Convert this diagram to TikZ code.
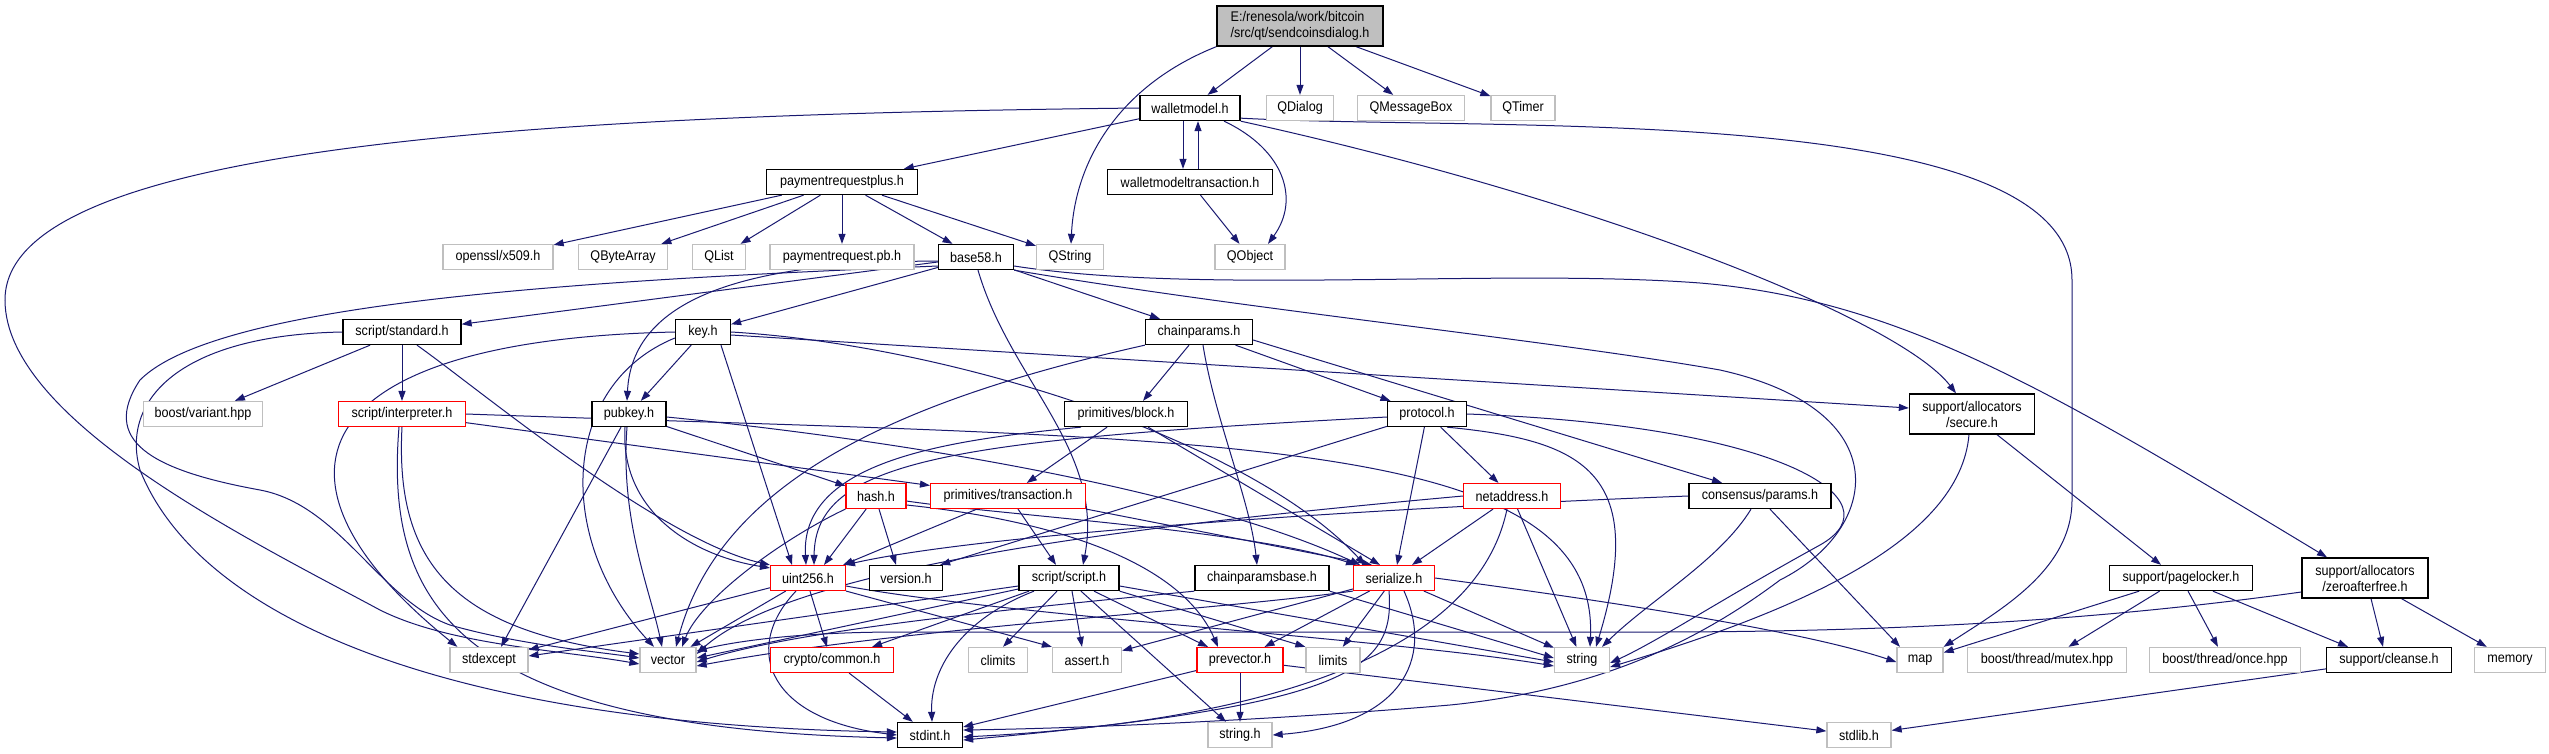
\documentclass[tikz,border=0pt]{standalone}
\usepackage{fontspec}
\setmainfont{Liberation Sans}
\newfontfamily\dox[FakeStretch=0.9]{Liberation Sans}
\usetikzlibrary{arrows.meta}
\definecolor{edgecol}{HTML}{191970}
\definecolor{extgray}{HTML}{BFBFBF}
\definecolor{rootfill}{HTML}{BFBFBF}
\pgfdeclarelayer{bgl}
\pgfdeclarelayer{edgel}
\pgfsetlayers{bgl,edgel,main}
\tikzset{
  box/.style={rectangle, minimum height=25pt, inner xsep=2pt, inner ysep=1pt,
              font=\dox\fontsize{14}{16}\selectfont, fill=white},
  doc/.style={box, draw=black, line width=1.3pt},
  ext/.style={box, draw=extgray, line width=1.3pt},
  trunc/.style={box, draw=red, line width=1.1pt},
  rootbox/.style={box, draw=black, line width=1.3pt, fill=rootfill, minimum height=40pt},
  e/.style={draw=edgecol, line width=1pt, -{Triangle[length=10pt,width=7pt]}},
}
\begin{document}
\begin{tikzpicture}[x=1pt,y=-1pt]
\begin{pgfonlayer}{bgl}
\fill[white] (0,0) rectangle (2549,753);
\end{pgfonlayer}
\useasboundingbox (0,0) rectangle (2549,753);

% ---------- nodes ----------
\node[rootbox, minimum width=166pt, align=left] (root) at (1300,26) {E:/renesola/work/bitcoin\\/src/qt/sendcoinsdialog.h};
\node[doc, minimum width=100pt] (wm) at (1190,108) {walletmodel.h};
\node[ext, minimum width=67pt] (qdialog) at (1300,108) {QDialog};
\node[ext, minimum width=107pt] (qmsg) at (1411,108) {QMessageBox};
\node[ext, minimum width=64pt] (qtimer) at (1523,108) {QTimer};
\node[doc, minimum width=165pt] (wmt) at (1190,182) {walletmodeltransaction.h};
\node[doc, minimum width=151pt] (prp) at (842,182) {paymentrequestplus.h};
\node[ext, minimum width=110pt] (x509) at (498,257) {openssl/x509.h};
\node[ext, minimum width=89pt] (qba) at (623,257) {QByteArray};
\node[ext, minimum width=53pt] (qlist) at (719,257) {QList};
\node[ext, minimum width=144pt] (pb) at (842,257) {paymentrequest.pb.h};
\node[doc, minimum width=75pt] (b58) at (976,257) {base58.h};
\node[ext, minimum width=67pt] (qstring) at (1070,257) {QString};
\node[ext, minimum width=70pt] (qobject) at (1250,257) {QObject};
\node[doc, minimum width=118pt] (std) at (402,332) {script/standard.h};
\node[doc, minimum width=55pt] (key) at (703,332) {key.h};
\node[doc, minimum width=107pt] (cp) at (1199,332) {chainparams.h};
\node[ext, minimum width=119pt] (bv) at (203,414) {boost/variant.hpp};
\node[trunc, minimum width=127pt] (interp) at (402,414) {script/interpreter.h};
\node[doc, minimum width=74pt] (pubkey) at (629,414) {pubkey.h};
\node[doc, minimum width=123pt] (block) at (1126,414) {primitives/block.h};
\node[doc, minimum width=79pt] (proto) at (1427,414) {protocol.h};
\node[doc, minimum width=125pt, minimum height=40pt, align=center] (secure) at (1972,414) {support/allocators\\/secure.h};
\node[trunc, minimum width=60pt] (hash) at (876,496) {hash.h};
\node[trunc, minimum width=155pt] (tx) at (1008,496) {primitives/transaction.h};
\node[trunc, minimum width=97pt] (net) at (1512,496) {netaddress.h};
\node[doc, minimum width=142pt] (params) at (1760,496) {consensus/params.h};
\node[trunc, minimum width=75pt] (uint) at (808,578) {uint256.h};
\node[doc, minimum width=73pt] (version) at (906,578) {version.h};
\node[doc, minimum width=100pt] (script) at (1069,578) {script/script.h};
\node[doc, minimum width=134pt] (cpb) at (1262,578) {chainparamsbase.h};
\node[trunc, minimum width=81pt] (ser) at (1394,578) {serialize.h};
\node[doc, minimum width=143pt] (pagelocker) at (2181,578) {support/pagelocker.h};
\node[doc, minimum width=126pt, minimum height=40pt, align=center] (zaf) at (2365,578) {support/allocators\\/zeroafterfree.h};
\node[ext, minimum width=78pt] (stdexcept) at (489,660) {stdexcept};
\node[ext, minimum width=56pt] (vector) at (668,660) {vector};
\node[trunc, minimum width=123pt] (crypto) at (832,660) {crypto/common.h};
\node[ext, minimum width=59pt] (climits) at (998,660) {climits};
\node[ext, minimum width=69pt] (assert) at (1087,660) {assert.h};
\node[trunc, minimum width=86pt] (prevector) at (1240,660) {prevector.h};
\node[ext, minimum width=54pt] (limits) at (1333,660) {limits};
\node[ext, minimum width=55pt] (string) at (1582,660) {string};
\node[ext, minimum width=46pt] (map) at (1920,660) {map};
\node[ext, minimum width=159pt] (mutex) at (2047,660) {boost/thread/mutex.hpp};
\node[ext, minimum width=151pt] (once) at (2225,660) {boost/thread/once.hpp};
\node[doc, minimum width=125pt] (cleanse) at (2389,660) {support/cleanse.h};
\node[ext, minimum width=71pt] (memory) at (2510,660) {memory};
\node[doc, minimum width=65pt] (stdint) at (930,735) {stdint.h};
\node[ext, minimum width=64pt] (stringh) at (1240,735) {string.h};
\node[ext, minimum width=64pt] (stdlib) at (1859,735) {stdlib.h};

% ---------- edges ----------
\begin{pgfonlayer}{edgel}
% root
\draw[e] (root) -- (wm);
\draw[e] (root) -- (qdialog);
\draw[e] (root) -- (qmsg);
\draw[e] (root) -- (qtimer);
\draw[e] (root.south west) .. controls (1120,85) and (1075,160) .. ([xshift=1pt]qstring.north);
% walletmodel
\draw[e] (wm) -- (prp);
\draw[e] ([xshift=-7pt]wm.south) -- ([xshift=-7pt]wmt.north);
\draw[e] ([xshift=8pt]wmt.north) -- ([xshift=8pt]wm.south);
\draw[e] ([xshift=34pt]wm.south) .. controls (1285,150) and (1300,200) .. ([xshift=18pt]qobject.north);
\draw[e] (wm.south east) .. controls (1600,200) and (1900,320) .. ([xshift=-16pt]secure.north);
\draw[e] ([yshift=3pt]wm.south east) .. controls (1500,132) and (2072,100) .. (2072,280) -- (2072,500) .. controls (2072,570) and (2000,610) .. (map.north east);
\draw[e] (wm.west) .. controls (500,115) and (5,150) .. (5,300) .. controls (5,420) and (250,540) .. (380,610) .. controls (450,645) and (560,650) .. ([yshift=-4pt]vector.west);
% paymentrequestplus
\draw[e] (prp) -- (x509);
\draw[e] (prp) -- (qba);
\draw[e] (prp) -- (qlist);
\draw[e] (prp) -- (pb);
\draw[e] (prp) -- (b58);
\draw[e] (prp) -- (qstring);
% walletmodeltransaction
\draw[e] (wmt) -- (qobject);
% base58
\draw[e] (b58) -- (cp);
\draw[e] (b58) -- (key);
\draw[e] (b58) -- (std);
\draw[e] ([yshift=-4pt]b58.west) .. controls (740,262) and (632,300) .. ([xshift=-2pt]pubkey.north);
\draw[e] ([xshift=2pt]b58.south) .. controls (1010,380) and (1105,450) .. ([xshift=14pt]script.north);
\draw[e] ([yshift=-9pt]b58.east) .. controls (1200,295) and (1500,268) .. (1700,283) .. controls (1900,300) and (2050,390) .. ([xshift=-38pt]zaf.north);
\draw[e] (b58.south east) .. controls (1250,310) and (1550,340) .. (1720,370) .. controls (1900,410) and (1880,530) .. (1780,580) .. controls (1700,640) and (1600,690) .. (1450,705) .. controls (1300,718) and (1100,728) .. ([yshift=5pt]stdint.east);
\draw[e] ([yshift=-9pt]b58.west) .. controls (600,280) and (220,300) .. (140,380) .. controls (100,440) and (150,470) .. (260,490) .. controls (340,505) and (380,600) .. (450,625) .. controls (520,645) and (600,652) .. ([yshift=2pt]vector.west);
% script/standard
\draw[e] (std) -- (interp);
\draw[e] (std) -- (bv);
\draw[e] ([xshift=15pt]std.south) .. controls (480,390) and (660,540) .. (uint.north west);
\draw[e] (std.west) .. controls (180,335) and (120,400) .. (140,470) .. controls (200,620) and (450,725) .. ([yshift=3pt]stdint.west);
% script/interpreter
\draw[e] (interp) -- (tx);
\draw[e] (interp.east) .. controls (1200,440) and (1600,430) .. ([xshift=8pt]string.north);
\draw[e] ([xshift=-3pt]interp.south) .. controls (385,600) and (450,728) .. ([yshift=-3pt]stdint.west);
\draw[e] (interp.south) .. controls (395,560) and (450,630) .. ([yshift=6pt]vector.west);
% key
\draw[e] (key) -- (pubkey);
\draw[e] ([xshift=18pt]key.south) -- ([xshift=-16pt]uint.north);
\draw[e] (key.east) .. controls (950,345) and (1250,440) .. ([xshift=-29pt]ser.north);
\draw[e] ([yshift=-3pt]key.east) -- ([yshift=6pt]secure.west);
\draw[e] (key.west) .. controls (300,340) and (250,480) .. ([xshift=8pt]stdexcept.north west);
\draw[e] ([yshift=-6pt]key.west) .. controls (560,385) and (555,540) .. ([xshift=-14pt]vector.north);
% pubkey
\draw[e] (pubkey) -- (hash);
\draw[e] ([yshift=-3pt]pubkey.east) .. controls (900,440) and (1200,490) .. ([xshift=-34pt]ser.north);
\draw[e] ([xshift=-4pt]pubkey.south) .. controls (620,510) and (690,555) .. ([yshift=-3pt]uint.north west);
\draw[e] ([xshift=-8pt]pubkey.south) -- ([xshift=12pt]stdexcept.north);
\draw[e] ([xshift=-2pt]pubkey.south) .. controls (620,520) and (650,590) .. ([xshift=-6pt]vector.north);
% chainparams
\draw[e] ([xshift=-10pt]cp.south) -- ([xshift=17pt]block.north);
\draw[e] (cp) -- (proto);
\draw[e] ([xshift=4pt]cp.south) .. controls (1215,420) and (1250,500) .. ([xshift=-5pt]cpb.north);
\draw[e] ([yshift=-8pt]cp.east) -- ([xshift=-38pt]params.north);
\draw[e] (cp.south west) .. controls (900,400) and (720,480) .. ([xshift=8pt]vector.north);
% primitives/block
\draw[e] (block) -- (tx);
\draw[e] (block) -- ([xshift=-14pt]ser.north);
\draw[e] ([xshift=-45pt]block.south) .. controls (950,440) and (800,460) .. ([xshift=-2pt]uint.north);
% protocol
\draw[e] (proto) -- (net);
\draw[e] (proto) -- ([xshift=3pt]ser.north);
\draw[e] (proto) -- ([xshift=-3pt]version.north east);
\draw[e] ([yshift=-3pt]proto.west) .. controls (950,440) and (815,460) .. ([xshift=6pt]uint.north);
\draw[e] ([xshift=20pt]proto.south) .. controls (1580,440) and (1650,470) .. ([xshift=14pt]string.north);
\draw[e] (proto.east) .. controls (1780,425) and (1900,500) .. (1820,545) .. controls (1720,600) and (1660,640) .. ([yshift=-3pt]string.east);
% netaddress
\draw[e] (net) -- ([xshift=18pt]ser.north);
\draw[e] (net) -- (string);
\draw[e] ([xshift=-5pt]net.south) .. controls (1480,640) and (1300,720) .. ([yshift=-2pt]stdint.east);
\draw[e] (net.west) .. controls (1200,520) and (800,560) .. ([yshift=6pt]vector.east);
% hash
\draw[e] (hash) -- ([xshift=16pt]uint.north);
\draw[e] ([xshift=3pt]hash.south) -- ([xshift=-10pt]version.north);
\draw[e] ([yshift=-5pt]hash.east) .. controls (1000,515) and (1250,530) .. ([xshift=-38pt]ser.north);
\draw[e] ([yshift=-9pt]hash.east) .. controls (1050,520) and (1180,560) .. ([xshift=-22pt]prevector.north);
\draw[e] (hash.south west) .. controls (780,540) and (700,600) .. ([xshift=14pt]vector.north);
% primitives/transaction
\draw[e] ([xshift=10pt]tx.south) -- ([xshift=-13pt]script.north);
\draw[e] (tx.south east) -- ([xshift=-22pt]ser.north);
\draw[e] ([xshift=-31pt]tx.south) -- ([xshift=-3pt]uint.north east);
% consensus/params
\draw[e] (params.west) .. controls (1450,505) and (1000,530) .. ([xshift=-1pt]uint.north east);
\draw[e] ([xshift=10pt]params.south) -- ([xshift=-20pt]map.north);
\draw[e] ([xshift=-9pt]params.south) .. controls (1720,560) and (1650,600) .. ([xshift=20pt]string.north);
% secure
\draw[e] ([xshift=25pt]secure.south) -- ([xshift=-20pt]pagelocker.north);
\draw[e] ([xshift=-3pt]secure.south) .. controls (1960,540) and (1800,610) .. ([yshift=-7pt]string.east);
% uint256
\draw[e] (uint) -- (stdexcept);
\draw[e] (uint) -- (vector);
\draw[e] ([xshift=2pt]uint.south) -- ([xshift=-5pt]crypto.north);
\draw[e] ([xshift=-12pt]uint.south) .. controls (740,650) and (770,720) .. (stdint.west);
\draw[e] (uint.south east) -- (assert.north west);
\draw[e] ([yshift=-8pt]uint.east) .. controls (1000,615) and (1400,640) .. ([yshift=-6pt]string.west);
% script/script
\draw[e] ([xshift=-40pt]script.south) -- ([xshift=40pt]crypto.north);
\draw[e] ([xshift=25pt]script.south) -- ([xshift=-32pt]prevector.north);
\draw[e] ([xshift=3pt]script.south) -- ([xshift=-5pt]assert.north);
\draw[e] ([xshift=-12pt]script.south) -- ([xshift=5pt]climits.north);
\draw[e] (script.south east) -- (limits.north west);
\draw[e] ([yshift=-8pt]script.west) -- ([yshift=4pt]stdexcept.east);
\draw[e] ([yshift=-11pt]script.west) -- ([yshift=2pt]vector.east);
\draw[e] ([xshift=-35pt]script.south) .. controls (960,620) and (930,670) .. ([xshift=2pt]stdint.north);
\draw[e] ([xshift=12pt]script.south) -- ([xshift=-14pt]stringh.north);
\draw[e] ([yshift=-8pt]script.east) -- ([yshift=-2pt]string.west);
% chainparamsbase
\draw[e] (cpb.south east) -- ([yshift=2pt]string.west);
\draw[e] (cpb.south west) .. controls (1000,610) and (800,630) .. ([yshift=-2pt]vector.east);
% serialize
\draw[e] (ser) -- (prevector);
\draw[e] (ser) -- (assert);
\draw[e] (ser) -- (limits);
\draw[e] (ser) -- (string);
\draw[e] (ser.east) .. controls (1600,600) and (1800,630) .. ([yshift=-2pt]map.west);
\draw[e] ([xshift=-5pt]ser.south) .. controls (1395,670) and (1350,705) .. ([yshift=-5pt]stdint.east);
\draw[e] ([xshift=10pt]ser.south) .. controls (1435,660) and (1400,725) .. (stringh.east);
\draw[e] (ser.south west) .. controls (1200,612) and (900,628) .. ([yshift=-6pt]vector.east);
% crypto/common
\draw[e] (crypto) -- (stdint);
% prevector
\draw[e] (prevector) -- (stdint);
\draw[e] (prevector) -- (stringh);
\draw[e] (prevector) -- (stdlib);
% pagelocker
\draw[e] (pagelocker) -- (map);
\draw[e] (pagelocker) -- (mutex);
\draw[e] (pagelocker) -- (once);
\draw[e] (pagelocker) -- ([xshift=-41pt]cleanse.north);
% zeroafterfree
\draw[e] ([xshift=6pt]zaf.south) -- ([xshift=-6pt]cleanse.north);
\draw[e] (zaf) -- (memory);
\draw[e] ([yshift=-14pt]zaf.west) .. controls (2100,620) and (1900,632) .. (1650,632) -- (900,632) .. controls (780,632) and (720,645) .. ([yshift=9pt]vector.east);
% cleanse
\draw[e] (cleanse) -- (stdlib);
\end{pgfonlayer}
\end{tikzpicture}
\end{document}
